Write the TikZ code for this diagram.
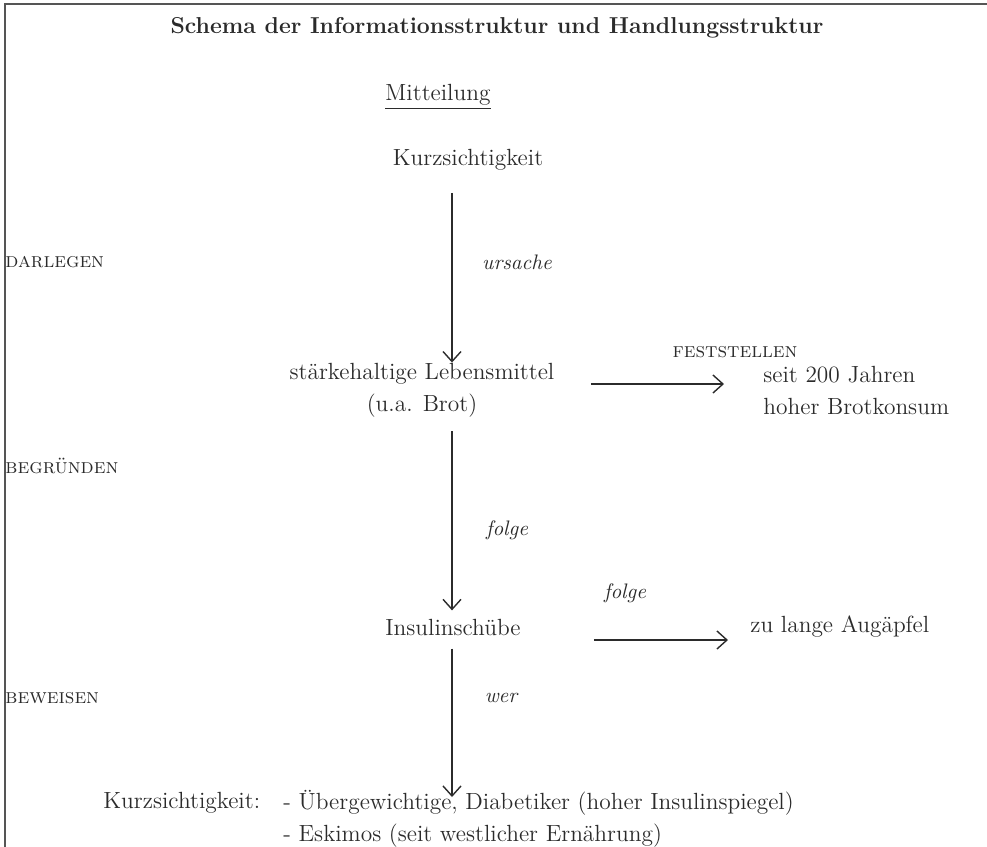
\documentclass[tikz,border=0pt]{standalone}
\usepackage{tikz}
\usetikzlibrary{arrows.meta}
\definecolor{tinte}{HTML}{2B2B2B}
\definecolor{rahmen}{HTML}{555555}
\tikzset{
  eintrag/.style={inner sep=0pt,text=tinte,font=\fontsize{11.7}{16}\selectfont},
  relation/.style={inner sep=0pt,text=tinte,font=\fontsize{10.5}{13}\selectfont\itshape},
  handlung/.style={inner sep=0pt,text=tinte,font=\fontsize{10.5}{13}\selectfont\scshape},
  titel/.style={inner sep=0pt,text=tinte,font=\fontsize{11.5}{14}\selectfont\bfseries},
  pfeil/.style={draw=tinte,line width=0.7pt,-{Straight Barb[length=5pt,width=9pt]}},
  rand/.style={draw=rahmen,line width=1pt},
}
\begin{document}
\begin{tikzpicture}[x=0.5pt,y=-0.5pt]
\useasboundingbox (0,0) rectangle (987,847);
\draw[rand] (987,4) -- (5,4) -- (5,847);
\coordinate (achse) at (452,0);
\node[titel] (titel) at (497,28) {Schema der Informationsstruktur und Handlungsstruktur};
\node[eintrag] (mitteilung) at (438,97) {\underline{Mitteilung}};
\node[eintrag] (kurz) at (468,160) {Kurzsichtigkeit};
\node[eintrag,align=center] (lebens) at (422,390) {stärkehaltige Lebensmittel\\(u.a. Brot)};
\node[eintrag,align=left,anchor=west] (brot) at (763,390) {seit 200 Jahren\\hoher Brotkonsum};
\node[eintrag] (insulin) at (453,627) {Insulinschübe};
\node[eintrag,anchor=west] (augen) at (750,627) {zu lange Augäpfel};
\node[eintrag,anchor=west] (befund) at (103,803) {Kurzsichtigkeit:};
\node[eintrag,align=left,anchor=north west] (belege) at (283,790) {- Übergewichtige, Diabetiker (hoher Insulinspiegel)\\- Eskimos (seit westlicher Ernährung)};
% Handlungen
\node[handlung,anchor=west] (darlegen) at (5,262) {darlegen};
\node[handlung,anchor=west] (begruenden) at (5,466) {begründen};
\node[handlung,anchor=west] (beweisen) at (5,698) {beweisen};
\node[handlung] (feststellen) at (735,352) {feststellen};
% Relationen
\node[relation] (ursache) at (517,262) {ursache};
\node[relation] (folge1) at (507,530) {folge};
\node[relation] (folge2) at (625,593) {folge};
\node[relation] (wer) at (501,698) {wer};
% Pfeile
\draw[pfeil,shorten <=11pt,shorten >=0pt] (kurz.south -| achse) -- (lebens.north -| achse);
\draw[pfeil,shorten <=7pt,shorten >=4pt] (lebens.south -| achse) -- (insulin.north -| achse);
\draw[pfeil,shorten <=6.5pt,shorten >=-3.5pt] (insulin.south -| achse) -- (belege.north -| achse);
\draw[pfeil,shorten <=18pt,shorten >=19.5pt] ([yshift=3pt]lebens.east) -- ([yshift=3pt]brot.west);
\draw[pfeil,shorten <=36.5pt,shorten >=11pt] ([yshift=-6.5pt]insulin.east) -- ([yshift=-6.5pt]augen.west);
\end{tikzpicture}
\end{document}
